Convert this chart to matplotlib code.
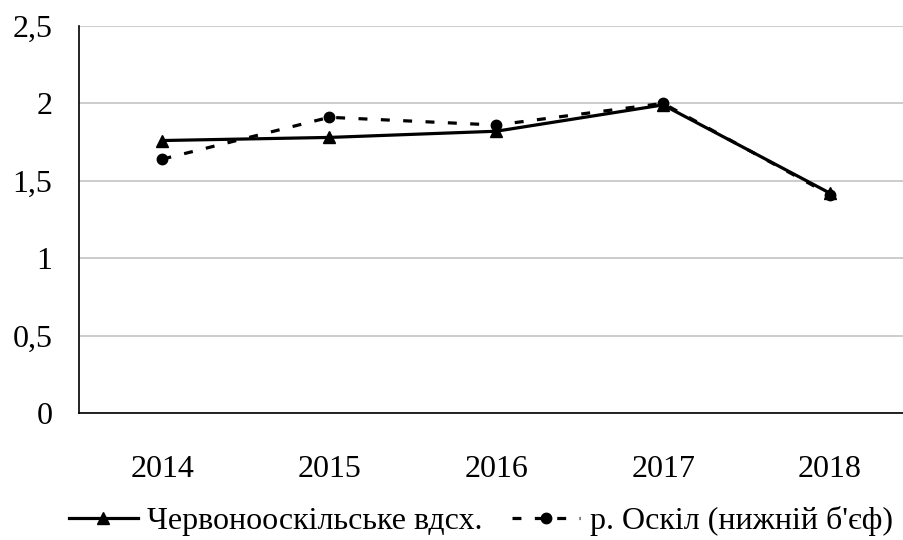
import matplotlib.pyplot as plt
from matplotlib.ticker import FuncFormatter

years = ["2014", "2015", "2016", "2017", "2018"]
reservoir = [1.76, 1.78, 1.82, 1.99, 1.42]
river = [1.64, 1.91, 1.86, 2.00, 1.41]
labels = ["Червонооскільське вдсх.", "р. Оскіл (нижній б'єф)"]

plt.rcParams["font.family"] = ["Liberation Serif", "DejaVu Serif"]

fig = plt.figure(figsize=(9.04, 5.4), dpi=100)
ax = fig.add_axes([0.0874, 0.235, 0.923, 0.717])

x = range(len(years))
ax.plot(x, reservoir, color="black", linewidth=2.3, marker="^", markersize=8,
        label=labels[0], zorder=3)
ax.plot(x, river, color="black", linewidth=2.3, linestyle=(0, (2.8, 4.2)),
        marker="o", markersize=7.5, label=labels[1], zorder=3)

ax.set_xlim(-0.5, 4.5)
ax.set_ylim(0, 2.5)
ax.set_yticks([0, 0.5, 1, 1.5, 2, 2.5])
ax.yaxis.set_major_formatter(FuncFormatter(lambda v, p: f"{v:g}".replace(".", ",")))
ax.set_xticks(list(x))
ax.set_xticklabels(years)

ax.grid(axis="y", color="#c8c8c8", linewidth=1.3)
ax.set_axisbelow(True)
for s in ["top", "right"]:
    ax.spines[s].set_visible(False)
ax.spines["left"].set_linewidth(1.2)
ax.spines["bottom"].set_linewidth(1.2)
ax.tick_params(length=0, labelsize=23)
ax.tick_params(axis="x", pad=30)
ax.tick_params(axis="y", pad=19)

fig.legend(loc="lower center", bbox_to_anchor=(0.532, -0.046), ncol=2, frameon=False,
           fontsize=23, handlelength=2.15, handletextpad=0.3, columnspacing=0.9)

fig.savefig("out.png", dpi=100)
